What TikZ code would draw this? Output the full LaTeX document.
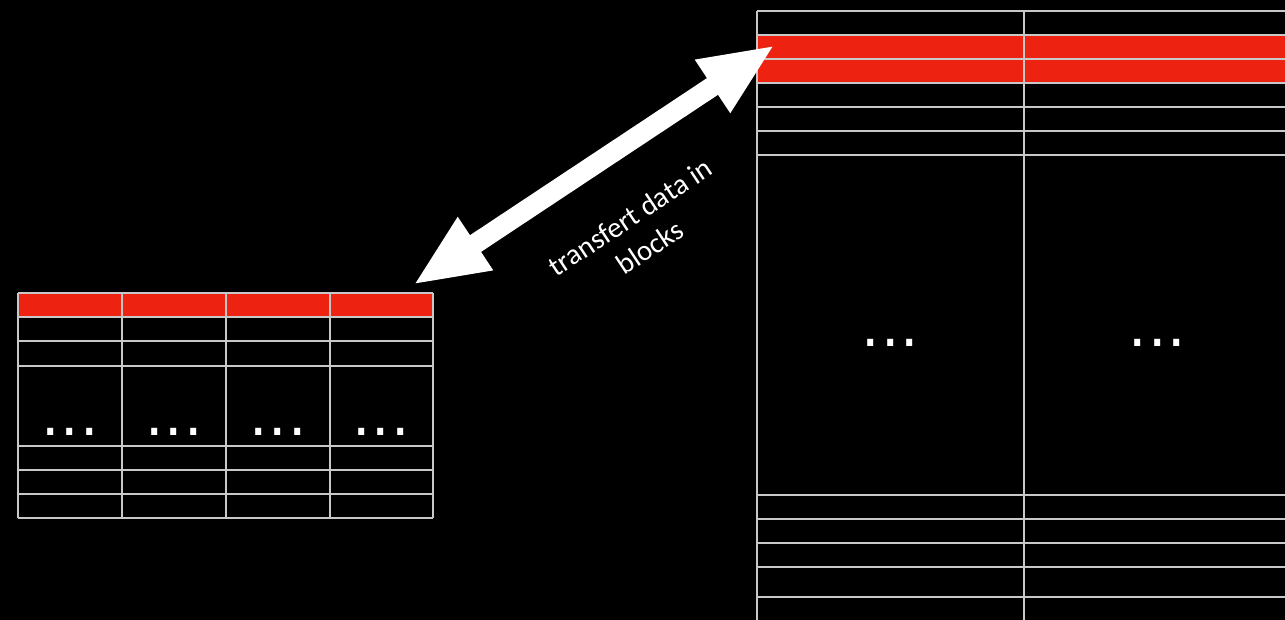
\documentclass[tikz,border=0pt]{standalone}
\usepackage{fontspec}
\setmainfont{Carlito}
\newfontfamily\dotfont{DejaVu Sans}
\usetikzlibrary{arrows.meta}
\definecolor{gridgray}{RGB}{200,200,200}
\definecolor{hotred}{RGB}{237,34,16}
\begin{document}
\begin{tikzpicture}[x=1pt,y=-1pt,
  gridline/.style={draw=gridgray, line width=2pt},
  redcell/.style={fill=hotred},
  dotstext/.style={text=white, anchor=base, inner sep=0pt, font=\dotfont\fontsize{58}{58}\selectfont},
  bigarrow/.style={white, line width=20pt, {Triangle[width=58pt,length=75pt]}-{Triangle[width=58pt,length=75pt]}},
  labeltext/.style={text=white, align=center, rotate=33.5, font=\fontsize{29}{36}\selectfont}]
\fill[black] (0,0) rectangle (1285,620);
\useasboundingbox (0,0) rectangle (1285,620);
% left table
\fill[redcell] (18,293) rectangle (433,317);
\foreach \y in {293,317,341,366,446,470,494,518} \draw[gridline] (18,\y) -- (433,\y);
\foreach \x in {18,122,226,330,433} \draw[gridline] (\x,293) -- (\x,518);
\foreach \x/\n in {70/a,174/b,278/c,381/d}
  \node[dotstext] (ldots\n) at (\x,435) {.\hspace{1pt}.\hspace{1pt}.};
% right table
\fill[redcell] (757,35) rectangle (1295,83);
\foreach \y in {11,35,59,83,107,131,155,495,519,543,567,597} \draw[gridline] (757,\y) -- (1295,\y);
\foreach \x in {757,1024} \draw[gridline] (\x,11) -- (\x,625);
\foreach \x/\n in {890.5/a,1157.5/b}
  \node[dotstext] (rdots\n) at (\x,346) {.\hspace{1pt}.\hspace{1pt}.};
% arrow
\coordinate (leftTip) at (413,285);
\coordinate (rightTip) at (775,45);
\draw[bigarrow] (leftTip) -- (rightTip);
\node[labeltext] (lbl) at (640,232) {transfert data in\\blocks};
\end{tikzpicture}
\end{document}
